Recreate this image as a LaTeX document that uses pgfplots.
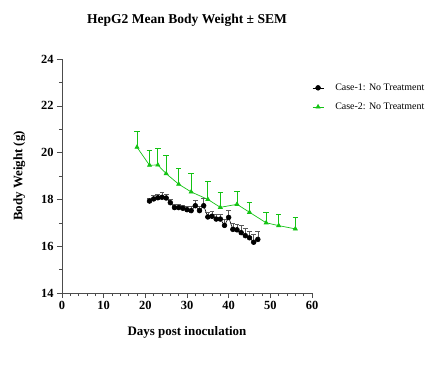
\documentclass[border=0pt]{standalone}
\usepackage{fontspec}
\setmainfont{Liberation Serif}
\usepackage{pgfplots}
\pgfplotsset{compat=1.18}
\definecolor{cgreen}{RGB}{20,195,20}
\definecolor{cgrayerr}{RGB}{90,90,90}
\begin{document}
\begin{tikzpicture}
\begin{axis}[
  scale only axis,
  width=250bp, height=234bp,
  xmin=0, xmax=60, ymin=14, ymax=24,
  axis lines*=left,
  axis line style={black!70, line width=0.6pt},
  xtick={0,10,...,60}, ytick={14,16,...,24},
  minor x tick num=4, minor y tick num=1,
  tick align=outside,
  major tick length=5bp, minor tick length=3bp,
  tick style={black!70, line width=0.5pt},
  /pgf/number format/assume math mode=true,
  tick label style={font=\bfseries\fontsize{12.5}{14}\selectfont},
  xlabel={Days post inoculation},
  ylabel={Body Weight (g)},
  label style={font=\bfseries\fontsize{13}{15}\selectfont},
  xlabel style={yshift=-10bp},
  ylabel style={yshift=9bp},
  title={HepG2 Mean Body Weight ± SEM},
  title style={font=\bfseries\fontsize{13.6}{16}\selectfont, yshift=23bp},
  legend style={at={(1.0,0.912)}, anchor=north west, xshift=-3bp, draw=none, fill=none,
    font=\fontsize{10}{12}\selectfont, row sep=7bp},
  legend cell align=left,
  legend image code/.code={
    \draw[#1] (0cm,0cm) -- (0.39cm,0cm);
    \draw[#1,only marks] plot coordinates {(0.195cm,0cm)};
    \path (0.72cm,0cm);
  },
  clip=false,
]
\addplot[black, line width=0.6pt, mark=*, mark size=2.4pt,
  error bars/y dir=plus, error bars/y explicit,
  error bars/error bar style={color=cgrayerr, line width=0.5pt},
  error bars/error mark options={color=cgrayerr, rotate=90, mark size=2.5pt, line width=0.5pt}]
  table[x=x, y=y, y error=e] {
x y e
21 17.93 0.14
22 18.02 0.15
23 18.07 0.16
24 18.09 0.20
25 18.06 0.15
26 17.86 0.15
27 17.65 0.15
28 17.65 0.15
29 17.62 0.15
30 17.56 0.15
31 17.52 0.20
32 17.73 0.25
33 17.52 0.20
34 17.73 0.30
35 17.25 0.20
36 17.28 0.20
37 17.16 0.20
38 17.16 0.20
39 16.89 0.25
40 17.23 0.30
41 16.72 0.25
42 16.70 0.25
43 16.58 0.30
44 16.45 0.30
45 16.36 0.30
46 16.17 0.35
47 16.29 0.35
};
\addlegendentry{Case-1: No Treatment}
\addplot[color=cgreen, line width=0.7pt, mark=triangle*, mark size=2.3pt,
  error bars/y dir=plus, error bars/y explicit,
  error bars/error bar style={color=cgreen, line width=0.9pt},
  error bars/error mark options={color=cgreen, rotate=90, mark size=2.8pt, line width=0.6pt}]
  table[x=x, y=y, y error=e] {
x y e
18 20.23 0.67
21 19.46 0.65
23 19.47 0.70
25 19.10 0.78
28 18.65 0.70
31 18.32 0.78
35 18.00 0.76
38 17.66 0.63
42 17.79 0.55
45 17.45 0.41
49 17.00 0.45
52 16.88 0.48
56 16.74 0.49
};
\addlegendentry{Case-2: No Treatment}
\end{axis}
\pgfresetboundingbox
\path (current axis.south west) ++(-62bp,-72bp) rectangle ++(437bp,365bp);
\end{tikzpicture}
\end{document}
